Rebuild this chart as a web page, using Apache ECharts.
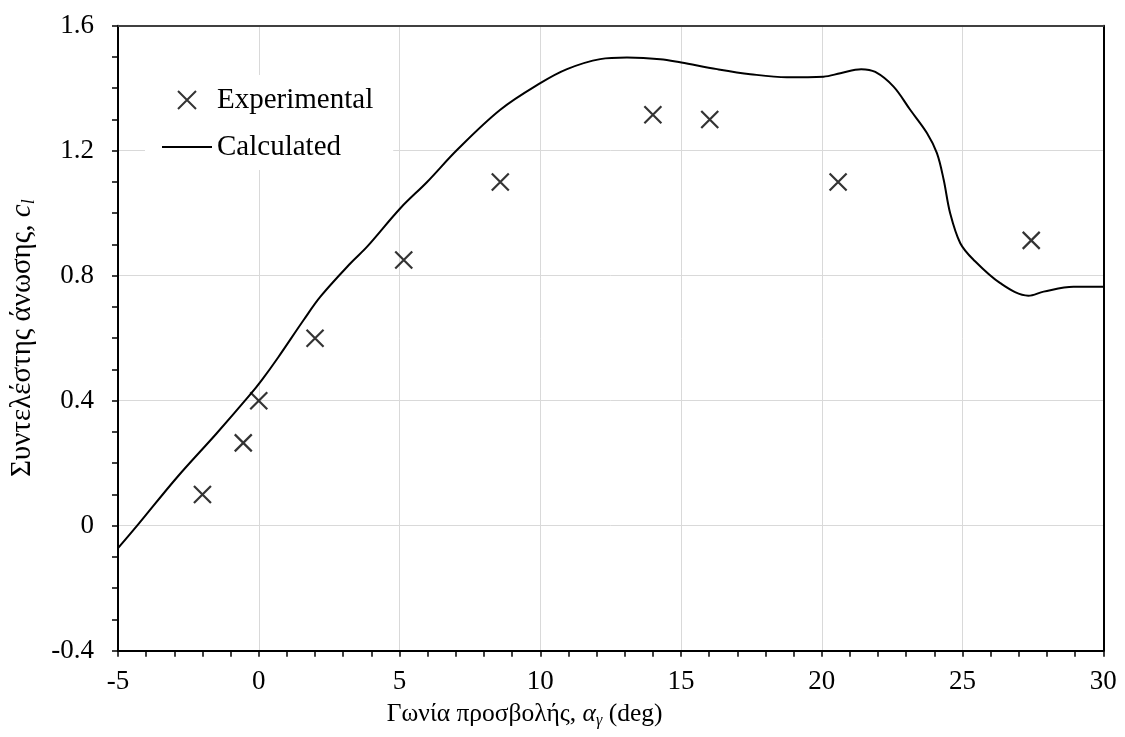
<!DOCTYPE html>
<html>
<head>
<meta charset="utf-8">
<script src="https://cdn.jsdelivr.net/npm/echarts@6/dist/echarts.min.js"></script>
<style>
html,body{margin:0;padding:0;background:#fff;}
#chart{width:1125px;height:737px;}
</style>
</head>
<body>
<div id="chart"></div>
<script>
// Experimental points [angle (deg), lift coefficient]
const expX = [-2, -0.55, 0, 2, 5.15, 8.58, 14.0, 16.02, 20.58, 27.44];
const expY = [0.10, 0.265, 0.40, 0.60, 0.85, 1.10, 1.315, 1.30, 1.10, 0.913];

// Calculated curve
const calcX = [-5, -4.32, -2.9, -1.5, -0.3, 0.1, 0.7, 1.6, 2.19, 3.26, 3.85, 5.03, 5.98, 7.05, 8.58, 10.0, 10.95, 12.13, 13.08, 14.26, 15.01, 16.28, 17.46, 18.76, 20.06, 20.66, 21.4, 21.9, 22.55, 23.14, 23.74, 24.09, 24.33, 24.56, 24.92, 25.39, 26.34, 27.34, 27.88, 28.94, 30];
const calcY = [-0.072, 0, 0.155, 0.295, 0.42, 0.465, 0.54, 0.659, 0.733, 0.84, 0.893, 1.016, 1.10, 1.203, 1.331, 1.416, 1.461, 1.493, 1.498, 1.493, 1.482, 1.461, 1.445, 1.435, 1.437, 1.448, 1.461, 1.452, 1.405, 1.331, 1.256, 1.192, 1.107, 1.0, 0.904, 0.851, 0.776, 0.736, 0.749, 0.765, 0.765];

const seriesNames = ['Experimental', 'Calculated'];
const xAxisTitle = 'Γωνία προσβολής, ';
const yAxisTitle = 'Συντελέστης άνωσης, ';

const FONT = '"Liberation Serif", "Times New Roman", serif';

const chart = echarts.init(document.getElementById('chart'), null, {renderer: 'canvas'});

const option = {
  backgroundColor: '#fff',
  animation: false,
  grid: {left: 117.5, right: 21.7, top: 25.7, bottom: 86.3, containLabel: false},
  legend: {
    orient: 'vertical',
    left: 145, top: 75,
    padding: [10, 20, 8, 17],
    backgroundColor: '#fff',
    itemWidth: 50, itemHeight: 18, itemGap: 17,
    data: [
      {name: seriesNames[0]},
      {name: seriesNames[1], icon: 'path://M0,0L25,0L25,1L0,1Z'}
    ],
    textStyle: {fontFamily: FONT, fontSize: 29, color: '#000', lineHeight: 30}
  },
  xAxis: [{
    type: 'value', min: -5, max: 30, interval: 5,
    name: '{t|' + xAxisTitle + '}{i|α}{s|γ}{t| (deg)}',
    nameLocation: 'middle', nameGap: 50,
    nameTextStyle: {
      fontFamily: FONT, fontSize: 25.5, color: '#000', padding: [0, 172, 0, 0],
      rich: {
        t: {fontFamily: FONT, fontSize: 25.5, color: '#000'},
        i: {fontFamily: FONT, fontSize: 25.5, fontStyle: 'italic', color: '#000'},
        s: {fontFamily: FONT, fontSize: 16, fontStyle: 'italic', color: '#000', verticalAlign: 'bottom', padding: [12, 0, 0, 0]}
      }
    },
    axisLine: {show: true, onZero: false, lineStyle: {color: '#000', width: 2}},
    axisTick: {show: true, inside: false, length: 6, lineStyle: {color: '#000', width: 1.5}},
    minorTick: {show: true, splitNumber: 5, length: 6, lineStyle: {color: '#000', width: 1.5}},
    axisLabel: {fontFamily: FONT, fontSize: 27, color: '#000', margin: 18},
    splitLine: {show: true, lineStyle: {color: '#d9d9d9', width: 1}},
    minorSplitLine: {show: false}
  }, {
    type: 'value', min: -5, max: 30, interval: 5, position: 'top',
    axisLine: {show: true, onZero: false, lineStyle: {color: '#404040', width: 2}},
    axisTick: {show: false}, axisLabel: {show: false}, splitLine: {show: false}
  }],
  yAxis: [{
    type: 'value', min: -0.4, max: 1.6, interval: 0.4,
    name: '{t|' + yAxisTitle + '}{i|c}{s|l}',
    nameLocation: 'middle', nameGap: 80, nameRotate: 90,
    nameTextStyle: {
      fontFamily: FONT, fontSize: 29, color: '#000',
      rich: {
        t: {fontFamily: FONT, fontSize: 29, color: '#000'},
        i: {fontFamily: FONT, fontSize: 29, fontStyle: 'italic', color: '#000'},
        s: {fontFamily: FONT, fontSize: 18, fontStyle: 'italic', color: '#000', verticalAlign: 'bottom', padding: [13, 0, 0, 0]}
      }
    },
    axisLine: {show: true, onZero: false, lineStyle: {color: '#000', width: 2}},
    axisTick: {show: true, inside: false, length: 6, lineStyle: {color: '#000', width: 1.5}},
    minorTick: {show: true, splitNumber: 4, length: 6, lineStyle: {color: '#000', width: 1.5}},
    axisLabel: {
      fontFamily: FONT, fontSize: 27, color: '#000', margin: 24,
      formatter: function (v) { return Math.abs(v) < 1e-9 ? '0' : v.toFixed(1); }
    },
    splitLine: {show: true, lineStyle: {color: '#d9d9d9', width: 1}},
    minorSplitLine: {show: false}
  }, {
    type: 'value', min: -0.4, max: 1.6, interval: 0.4, position: 'right',
    axisLine: {show: true, onZero: false, lineStyle: {color: '#000', width: 2}},
    axisTick: {show: false}, axisLabel: {show: false}, splitLine: {show: false}
  }],
  series: [{
    name: seriesNames[0],
    type: 'scatter',
    data: expX.map((x, i) => [x, expY[i]]),
    symbol: 'path://M0,0L16,16M16,0L0,16',
    symbolSize: 17,
    itemStyle: {color: 'rgba(0,0,0,0)', borderColor: '#000', borderWidth: 2.2},
    z: 5
  }, {
    name: seriesNames[1],
    type: 'line',
    data: calcX.map((x, i) => [x, calcY[i]]),
    smooth: 0.35,
    symbol: 'none',
    showSymbol: false,
    lineStyle: {color: '#000', width: 2},
    itemStyle: {color: '#000'},
    z: 4
  }]
};
chart.setOption(option);
</script>
</body>
</html>
